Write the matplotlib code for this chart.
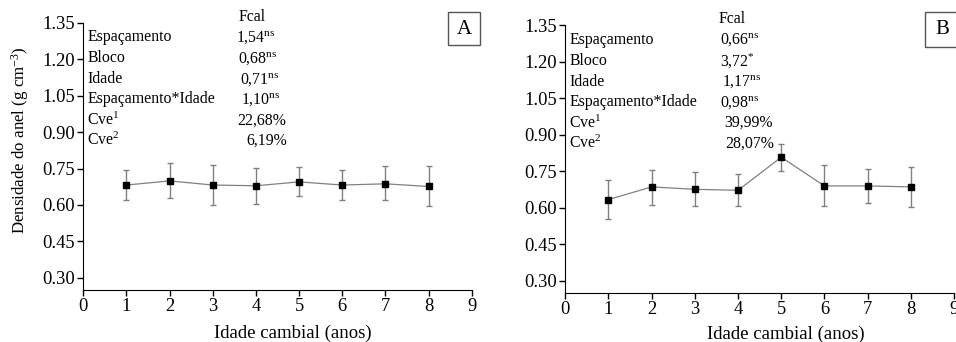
import matplotlib
matplotlib.use("Agg")
import matplotlib.pyplot as plt
from matplotlib.patches import Rectangle

plt.rcParams['font.family'] = ['Liberation Serif', 'DejaVu Serif']
plt.rcParams['mathtext.fontset'] = 'custom'
plt.rcParams['mathtext.rm'] = 'Liberation Serif'
plt.rcParams['mathtext.it'] = 'Liberation Serif:italic'

# cambial age (years)
idade = [1, 2, 3, 4, 5, 6, 7, 8]

# panel A - ring density, upper and lower error bar limits
dens_a = [0.682, 0.699, 0.682, 0.679, 0.695, 0.682, 0.687, 0.676]
sup_a = [0.743, 0.771, 0.764, 0.753, 0.757, 0.743, 0.760, 0.760]
inf_a = [0.619, 0.628, 0.599, 0.605, 0.635, 0.619, 0.619, 0.594]

# panel B
dens_b = [0.634, 0.686, 0.676, 0.672, 0.808, 0.690, 0.690, 0.686]
sup_b = [0.715, 0.757, 0.746, 0.738, 0.863, 0.777, 0.760, 0.768]
inf_b = [0.553, 0.612, 0.606, 0.606, 0.750, 0.606, 0.621, 0.603]

fontes = ['Espaçamento', 'Bloco', 'Idade', 'Espaçamento*Idade',
          'Cve$^{\\mathrm{1}}$', 'Cve$^{\\mathrm{2}}$']
fcal_a = ['1,54$^{\\mathrm{ns}}$', '0,68$^{\\mathrm{ns}}$', '0,71$^{\\mathrm{ns}}$',
          '1,10$^{\\mathrm{ns}}$', '22,68%', '6,19%']
fcal_b = ['0,66$^{\\mathrm{ns}}$', '3,72$^{\\mathrm{*}}$', '1,17$^{\\mathrm{ns}}$',
          '0,98$^{\\mathrm{ns}}$', '39,99%', '28,07%']

yticks = [0.30, 0.45, 0.60, 0.75, 0.90, 1.05, 1.20, 1.35]

fig = plt.figure(figsize=(9.56, 3.42), dpi=100)
ax_a = fig.add_axes([0.0871, 0.152, 0.4063, 0.7816])
ax_b = fig.add_axes([0.5913, 0.1433, 0.4066, 0.7827])


def painel(ax, dens, sup, inf, valores, val_x, fcal_x, xlab_pos):
    erro = [[d - i for d, i in zip(dens, inf)], [s - d for s, d in zip(sup, dens)]]
    ax.errorbar(idade, dens, yerr=erro, fmt='none', ecolor='#808080',
                elinewidth=1.0, capsize=2, capthick=1.0, zorder=2)
    ax.plot(idade, dens, color='#808080', lw=0.9, zorder=3)
    ax.plot(idade, dens, 's', color='black', ms=5, zorder=4)

    ax.set_xlim(0, 9)
    ax.set_ylim(0.25, 1.35)
    ax.set_xticks(range(0, 10))
    ax.set_yticks(yticks)
    ax.set_yticklabels(['%.2f' % v for v in yticks])
    ax.spines['top'].set_visible(False)
    ax.spines['right'].set_visible(False)
    ax.tick_params(direction='out', length=4, width=1, labelsize=13.3, pad=2)
    ax.set_xlabel('Idade cambial (anos)', fontsize=13.5, va='center')
    ax.xaxis.set_label_coords(*xlab_pos)

    ax.text(fcal_x, 1.375, 'Fcal', fontsize=11.4, va='center')
    ys = [1.29, 1.203, 1.118, 1.034, 0.948, 0.864]
    for i in range(len(fontes)):
        ax.text(0.09, ys[i], fontes[i], fontsize=11.4, va='center')
        ax.text(val_x[i], ys[i], valores[i], fontsize=11.4, va='center')


painel(ax_a, dens_a, sup_a, inf_a, fcal_a,
       [3.53, 3.58, 3.63, 3.65, 3.56, 3.77], 3.60, (0.54, -0.161))
painel(ax_b, dens_b, sup_b, inf_b, fcal_b,
       [3.58, 3.58, 3.63, 3.58, 3.67, 3.70], 3.56, (0.568, -0.153))

ax_a.set_ylabel('Densidade do anel (g cm$^{\\mathrm{-3}}$)', fontsize=12.2, va='center')
ax_a.yaxis.set_label_coords(-0.163, 0.56)

# panel letters
fig.patches.append(Rectangle((448 / 956, 1 - 45 / 342), 32 / 956, 33 / 342,
                             transform=fig.transFigure, fill=False,
                             edgecolor='#555555', lw=1))
fig.text(464 / 956, 1 - 29 / 342, 'A', fontsize=15, ha='center', va='center')
fig.patches.append(Rectangle((925 / 956, 1 - 47 / 342), 34 / 956, 35 / 342,
                             transform=fig.transFigure, fill=False,
                             edgecolor='#555555', lw=1))
fig.text(942 / 956, 1 - 30 / 342, 'B', fontsize=15, ha='center', va='center')

fig.savefig('out.png', dpi=100)
